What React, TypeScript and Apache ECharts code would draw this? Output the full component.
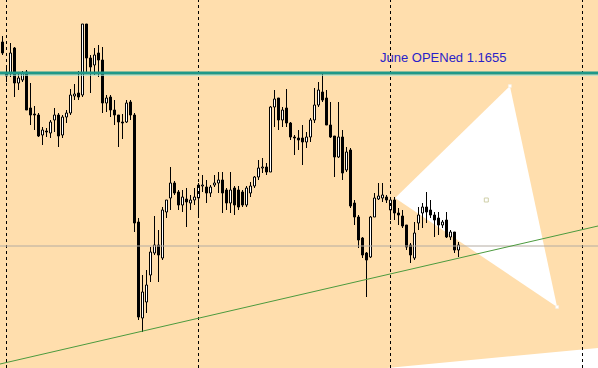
import React, { useEffect, useRef } from "react";
import * as echarts from "echarts";

// Prices in pips (1/10000): [open, close, low, high]
const candles: number[][] = [
  [11686, 11675, 11673, 11692], [11654, 11652, 11646, 11661], [11655, 11675, 11651, 11685], [11680, 11645, 11631, 11681],
  [11645, 11650, 11638, 11655], [11648, 11655, 11646, 11657], [11656, 11618, 11618, 11658], [11620, 11613, 11603, 11645],
  [11614, 11613, 11598, 11622], [11613, 11592, 11591, 11615], [11593, 11598, 11583, 11601], [11597, 11596, 11591, 11600],
  [11595, 11606, 11590, 11608], [11608, 11613, 11596, 11620], [11613, 11592, 11581, 11615], [11593, 11611, 11590, 11613],
  [11611, 11615, 11605, 11618], [11615, 11633, 11613, 11639], [11632, 11634, 11628, 11644], [11635, 11631, 11628, 11657],
  [11633, 11704, 11631, 11704], [11704, 11670, 11656, 11704], [11670, 11661, 11635, 11673], [11663, 11673, 11653, 11680],
  [11675, 11668, 11651, 11683], [11668, 11625, 11615, 11681], [11625, 11630, 11616, 11633], [11631, 11618, 11611, 11633],
  [11618, 11613, 11603, 11628], [11613, 11606, 11581, 11613], [11606, 11605, 11589, 11614], [11606, 11625, 11605, 11628],
  [11626, 11613, 11608, 11628], [11613, 11505, 11496, 11615], [11506, 11411, 11408, 11510], [11410, 11436, 11396, 11453],
  [11426, 11443, 11415, 11458], [11453, 11476, 11446, 11481], [11475, 11483, 11473, 11512], [11483, 11473, 11446, 11498],
  [11470, 11518, 11468, 11521], [11516, 11528, 11510, 11528], [11530, 11545, 11518, 11561], [11545, 11535, 11533, 11547],
  [11536, 11523, 11518, 11538], [11523, 11531, 11516, 11538], [11529, 11526, 11501, 11540], [11525, 11528, 11518, 11533],
  [11528, 11531, 11523, 11540], [11530, 11543, 11510, 11545], [11542, 11543, 11536, 11553], [11541, 11535, 11525, 11548],
  [11535, 11541, 11531, 11543], [11543, 11545, 11541, 11553], [11545, 11548, 11535, 11556], [11548, 11535, 11515, 11556],
  [11538, 11525, 11518, 11540], [11525, 11538, 11515, 11556], [11540, 11523, 11513, 11542], [11538, 11521, 11518, 11542],
  [11536, 11523, 11521, 11538], [11523, 11540, 11521, 11542], [11535, 11542, 11531, 11546], [11542, 11551, 11540, 11552],
  [11551, 11560, 11548, 11568], [11560, 11561, 11555, 11570], [11561, 11556, 11553, 11565], [11556, 11621, 11556, 11622],
  [11621, 11629, 11601, 11638], [11630, 11608, 11598, 11630], [11608, 11618, 11601, 11621], [11620, 11605, 11601, 11639],
  [11605, 11591, 11588, 11606], [11591, 11590, 11573, 11593], [11590, 11588, 11578, 11598], [11590, 11586, 11563, 11603],
  [11586, 11591, 11580, 11596], [11591, 11608, 11586, 11610], [11608, 11623, 11605, 11640], [11623, 11638, 11621, 11646],
  [11636, 11628, 11626, 11655], [11630, 11603, 11603, 11638], [11603, 11591, 11590, 11626], [11592, 11571, 11551, 11592],
  [11571, 11591, 11570, 11626], [11591, 11555, 11548, 11598], [11558, 11576, 11556, 11581], [11578, 11522, 11520, 11580],
  [11525, 11511, 11503, 11528], [11511, 11488, 11480, 11513], [11490, 11473, 11470, 11491], [11475, 11468, 11431, 11476],
  [11471, 11511, 11470, 11512], [11511, 11530, 11511, 11535], [11529, 11532, 11528, 11545], [11530, 11533, 11526, 11545],
  [11531, 11528, 11525, 11533], [11518, 11528, 11508, 11530], [11528, 11515, 11508, 11531], [11515, 11513, 11503, 11520],
  [11512, 11502, 11500, 11518], [11503, 11481, 11478, 11503], [11483, 11473, 11465, 11485], [11470, 11495, 11468, 11506],
  [11505, 11513, 11498, 11521], [11515, 11521, 11500, 11525], [11521, 11516, 11505, 11536], [11518, 11513, 11510, 11528],
  [11513, 11508, 11491, 11516], [11510, 11503, 11493, 11516], [11503, 11506, 11500, 11508], [11508, 11491, 11490, 11516],
  [11491, 11496, 11488, 11498], [11496, 11478, 11475, 11496], [11478, 11483, 11471, 11486],
];

const SLOT_COUNT = 149; // bar slots across the window (empty on the right)
const categories: string[] = Array.from({ length: SLOT_COUNT }, (_, i) => `bar ${i}`);
const separatorBars: number[] = [1, 49, 97, 145];
const juneOpen = 11655;
const juneLabel = "June OPENed 1.1655";
const grayLevel = 11482;
// trendline anchors: [bar index, pips]
const trendLine: number[][] = [[-0.675, 11364], [148.825, 11502]];
// triangle vertices: [bar index, pips]
const triangle: number[][] = [[98.1, 11530], [126.8, 11642], [138.6, 11421]];
const triangleCenter: number[] = [120.9, 11528];
const cornerPoly: number[][] = [[96.1, 11360], [148.825, 11380], [148.825, 11360]];

const Y_MIN = 11360;
const Y_MAX = 11728;
const P = (v: number) => v / 10000;

export default function App() {
  const ref = useRef<HTMLDivElement>(null);
  useEffect(() => {
    document.body.style.margin = "0";
    const chart = echarts.init(ref.current!, undefined, { renderer: "svg" });
    const data = candles.map((c) => [P(c[0]), P(c[1]), P(c[2]), P(c[3])]);
    chart.setOption({
      animation: false,
      backgroundColor: "#FFDEAD",
      grid: { left: 0.7, right: 1.3, top: 0, bottom: 0 },
      xAxis: [
        { type: "category", data: categories, boundaryGap: true, show: false },
        { type: "value", min: -0.5, max: SLOT_COUNT - 0.5, show: false },
      ],
      yAxis: { type: "value", min: P(Y_MIN), max: P(Y_MAX), show: false, splitLine: { show: false } },
      series: [
        {
          type: "candlestick",
          data,
          barWidth: 3,
          z: 3,
          itemStyle: {
            color: "#ffffff",
            color0: "#000000",
            borderColor: "#000000",
            borderColor0: "#000000",
            borderWidth: 1,
          },
          markLine: {
            silent: true,
            symbol: ["none", "none"],
            label: { show: false },
            lineStyle: { color: "#000000", width: 1, type: [3, 3] },
            data: separatorBars.map((b) => ({ xAxis: categories[b] })),
          },
        },
      ],
    });

    const px = (p: number[]) =>
      chart.convertToPixel({ xAxisIndex: 1, yAxisIndex: 0 }, [p[0], P(p[1])]) as number[];
    const yPx = (v: number) => chart.convertToPixel({ yAxisIndex: 0 }, P(v)) as number;
    const W = 598;
    const yOpen = yPx(juneOpen);
    const yGray = yPx(grayLevel);
    const t0 = px(trendLine[0]);
    const t1 = px(trendLine[1]);
    const tri = triangle.map(px);
    const tc = px(triangleCenter);
    const corner = cornerPoly.map(px);

    chart.setOption({
      graphic: [
        { type: "polygon", z: 1, shape: { points: corner }, style: { fill: "#ffffff" }, silent: true },
        { type: "polygon", z: 1, shape: { points: tri }, style: { fill: "#ffffff" }, silent: true },
        {
          type: "rect", z: 1, shape: { x: tc[0] - 2, y: tc[1] - 2, width: 4, height: 4 },
          style: { fill: "none", stroke: "#cfcfa8", lineWidth: 1 }, silent: true,
        },
        ...tri.slice(1).map((p) => ({
          type: "rect", z: 1, shape: { x: p[0] - 1.5, y: p[1] - 1.5, width: 3, height: 3 },
          style: { fill: "#ffffff", stroke: "#f4efe4", lineWidth: 0.5 }, silent: true,
        })),
        {
          type: "line", z: 10, shape: { x1: 0, y1: yGray, x2: W, y2: yGray },
          style: { stroke: "#b4aca2", lineWidth: 1 }, silent: true,
        },
        {
          type: "line", z: 10, shape: { x1: t0[0], y1: t0[1], x2: t1[0], y2: t1[1] },
          style: { stroke: "#4c9a3e", lineWidth: 1 }, silent: true,
        },
        {
          type: "line", z: 10, shape: { x1: 0, y1: yOpen + 2.2, x2: W, y2: yOpen + 2.2 },
          style: { stroke: "#a6e3d4", lineWidth: 1 }, silent: true,
        },
        {
          type: "line", z: 11, shape: { x1: 0, y1: yOpen, x2: W, y2: yOpen },
          style: { stroke: "#1f9888", lineWidth: 3 }, silent: true,
        },
        {
          type: "text", z: 12, x: 380, y: yOpen - 16,
          style: {
            text: juneLabel, fill: "#2a1fc8", fontSize: 13,
            fontFamily: "Liberation Sans, Arial, sans-serif",
            verticalAlign: "middle", align: "left",
          },
          silent: true,
        },
      ],
    });
    return () => chart.dispose();
  }, []);
  return <div ref={ref} style={{ width: 598, height: 368 }} />;
}
